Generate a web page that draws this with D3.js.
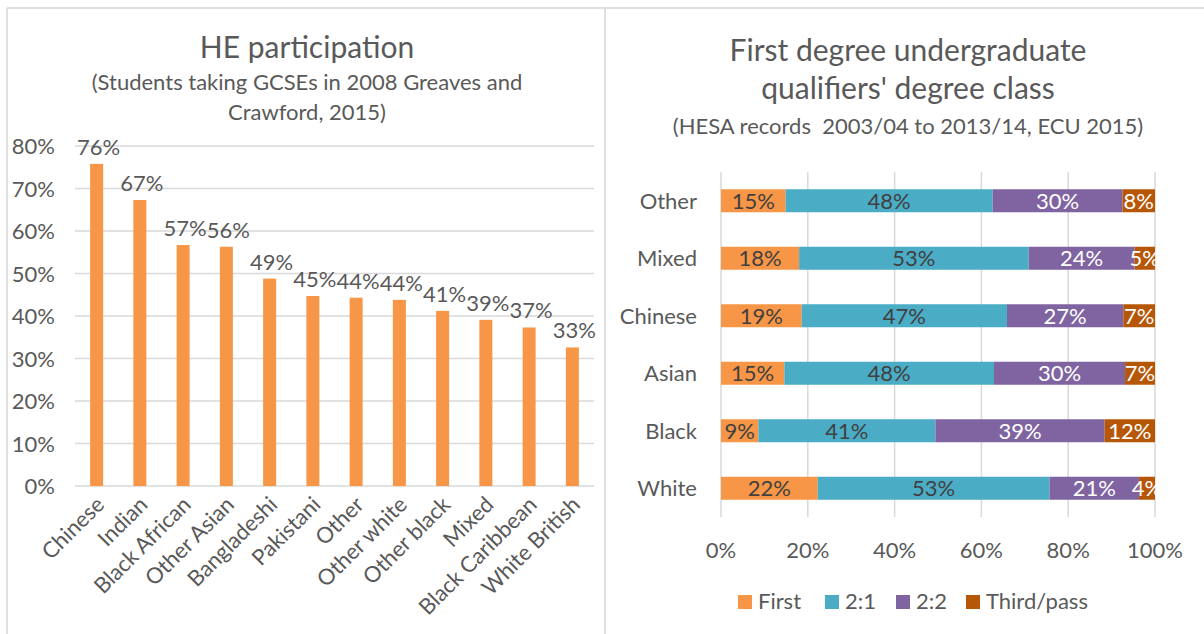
<!DOCTYPE html>
<html>
<head>
<meta charset="utf-8">
<script src="https://cdn.jsdelivr.net/npm/d3@7"></script>
<style>
  body { margin: 0; background: #fff; }
  svg text { font-family: Lato, "Liberation Sans", sans-serif; fill: #595959; }
</style>
</head>
<body>
<script>
// left chart: HE participation by ethnic group
const groups = ['Chinese', 'Indian', 'Black African', 'Other Asian', 'Bangladeshi', 'Pakistani',
  'Other', 'Other white', 'Other black', 'Mixed', 'Black Caribbean', 'White British'];
const participation = [0.758, 0.673, 0.567, 0.563, 0.488, 0.447, 0.443, 0.438, 0.412, 0.391, 0.373, 0.326];
const yTicks = [0, 0.1, 0.2, 0.3, 0.4, 0.5, 0.6, 0.7, 0.8];

// right chart: degree class, percent of qualifiers
const ethnicities = ['Other', 'Mixed', 'Chinese', 'Asian', 'Black', 'White'];
const classes = ['First', '2:1', '2:2', 'Third/pass'];
const first = [14.9, 18.0, 18.6, 14.6, 8.6, 22.3];
const upperSecond = [47.7, 52.9, 47.3, 48.3, 40.8, 53.4];
const lowerSecond = [29.9, 24.4, 26.8, 30.2, 39.0, 20.6];
const thirdPass = [7.5, 4.7, 7.3, 6.9, 11.6, 3.7];
const xTicks = [0, 20, 40, 60, 80, 100];

const classColors = ['#F79646', '#4BACC6', '#8064A2', '#B65708'];
const labelColors = ['#404040', '#404040', '#ffffff', '#ffffff'];

const width = 1204;
const height = 634;
const pct = d3.format('.0%');

const svg = d3.select('body').append('svg')
  .attr('width', width)
  .attr('height', height);

// panel borders
svg.append('line').attr('x1', 7).attr('x2', width).attr('y1', 8).attr('y2', 8)
  .attr('stroke', '#e0e0e0').attr('stroke-width', 2);
svg.append('line').attr('x1', 7).attr('x2', 7).attr('y1', 8).attr('y2', height)
  .attr('stroke', '#e0e0e0').attr('stroke-width', 2);
svg.append('line').attr('x1', 605).attr('x2', 605).attr('y1', 8).attr('y2', height)
  .attr('stroke', '#e0e0e0').attr('stroke-width', 2);

// ---------- left chart ----------
const left = svg.append('g');

left.append('text').attr('x', 307).attr('y', 58).attr('text-anchor', 'middle')
  .style('font-size', '30px').text('HE participation');
left.append('text').attr('x', 307).attr('y', 90).attr('text-anchor', 'middle')
  .style('font-size', '22px').text('(Students taking GCSEs in 2008 Greaves and');
left.append('text').attr('x', 307).attr('y', 120).attr('text-anchor', 'middle')
  .style('font-size', '22px').text('Crawford, 2015)');

const x = d3.scaleBand()
  .domain(groups)
  .range([75, 594])
  .paddingInner(0.7)
  .paddingOuter(0.35);

const y = d3.scaleLinear()
  .domain([0, 0.8])
  .range([486, 146]);

left.append('g').selectAll('line')
  .data(yTicks)
  .join('line')
    .attr('x1', 75).attr('x2', 594)
    .attr('y1', d => y(d)).attr('y2', d => y(d))
    .attr('stroke', '#d9d9d9').attr('stroke-width', 1.5);

left.append('g').selectAll('text')
  .data(yTicks)
  .join('text')
    .attr('x', 55)
    .attr('y', d => y(d) + 8)
    .attr('text-anchor', 'end')
    .style('font-size', '22px')
    .text(d => pct(d));

left.append('g').selectAll('rect')
  .data(participation)
  .join('rect')
    .attr('x', (d, i) => x(groups[i]))
    .attr('y', d => y(d))
    .attr('width', x.bandwidth())
    .attr('height', d => y(0) - y(d))
    .attr('fill', '#F79646');

left.append('g').selectAll('text')
  .data(participation)
  .join('text')
    .attr('x', (d, i) => x(groups[i]) + x.bandwidth() / 2 + 2)
    .attr('y', d => y(d) - 9)
    .attr('text-anchor', 'middle')
    .style('font-size', '22px')
    .text(d => pct(d));

left.append('g').selectAll('text')
  .data(groups)
  .join('text')
    .attr('transform', d => `translate(${x(d) + x.bandwidth() / 2 + 9},${506}) rotate(-45)`)
    .attr('text-anchor', 'end')
    .style('font-size', '22px')
    .text(d => d);

// ---------- right chart ----------
const right = svg.append('g');

right.append('text').attr('x', 908).attr('y', 61).attr('text-anchor', 'middle')
  .style('font-size', '30px').text('First degree undergraduate');
right.append('text').attr('x', 908).attr('y', 99).attr('text-anchor', 'middle')
  .style('font-size', '30px').text("qualifiers' degree class");
right.append('text').attr('x', 908).attr('y', 134).attr('text-anchor', 'middle')
  .style('font-size', '22px').style('white-space', 'pre')
  .text('(HESA records  2003/04 to 2013/14, ECU 2015)');

const xr = d3.scaleLinear()
  .domain([0, 100])
  .range([721, 1155]);

const yr = d3.scaleBand()
  .domain(ethnicities)
  .range([172, 517])
  .paddingInner(0.6)
  .paddingOuter(0.3);

right.append('g').selectAll('line')
  .data(xTicks)
  .join('line')
    .attr('x1', d => xr(d)).attr('x2', d => xr(d))
    .attr('y1', 172).attr('y2', 517)
    .attr('stroke', '#d9d9d9').attr('stroke-width', 1.5);

right.append('g').selectAll('text')
  .data(xTicks)
  .join('text')
    .attr('x', d => xr(d))
    .attr('y', 558)
    .attr('text-anchor', 'middle')
    .style('font-size', '22px')
    .text(d => d + '%');

right.append('g').selectAll('text')
  .data(ethnicities)
  .join('text')
    .attr('x', 697)
    .attr('y', d => yr(d) + yr.bandwidth() / 2 + 8)
    .attr('text-anchor', 'end')
    .style('font-size', '22px')
    .text(d => d);

const rows = ethnicities.map((e, i) => ({
  ethnicity: e,
  First: first[i],
  '2:1': upperSecond[i],
  '2:2': lowerSecond[i],
  'Third/pass': thirdPass[i]
}));
const stacked = d3.stack().keys(classes)(rows);

right.append('defs').append('clipPath').attr('id', 'plot-clip')
  .append('rect')
    .attr('x', xr(0)).attr('y', 150)
    .attr('width', xr(100) - xr(0) + 2).attr('height', 400);

const layers = right.append('g').selectAll('g')
  .data(stacked)
  .join('g')
    .attr('fill', (d, i) => classColors[i]);

layers.selectAll('rect')
  .data(d => d)
  .join('rect')
    .attr('x', d => xr(d[0]))
    .attr('y', d => yr(d.data.ethnicity))
    .attr('width', d => xr(d[1]) - xr(d[0]))
    .attr('height', yr.bandwidth());

const labelLayers = right.append('g').attr('clip-path', 'url(#plot-clip)')
  .selectAll('g')
  .data(stacked)
  .join('g');

labelLayers.selectAll('text')
  .data((d, i) => d.map(v => ({ v, color: labelColors[i] })))
  .join('text')
    .attr('x', d => (xr(d.v[0]) + xr(d.v[1])) / 2)
    .attr('y', d => yr(d.v.data.ethnicity) + yr.bandwidth() / 2 + 8)
    .attr('text-anchor', 'middle')
    .style('font-size', '22px')
    .style('fill', d => d.color)
    .text(d => Math.round(d.v[1] - d.v[0]) + '%');

// legend
const legendX = [738, 825, 896, 966];
const legend = right.append('g').selectAll('g')
  .data(classes)
  .join('g')
    .attr('transform', (d, i) => `translate(${legendX[i]},595)`);
legend.append('rect')
  .attr('width', 14).attr('height', 14)
  .attr('fill', (d, i) => classColors[i]);
legend.append('text')
  .attr('x', 20).attr('y', 14)
  .style('font-size', '22px')
  .text(d => d);
</script>
</body>
</html>
